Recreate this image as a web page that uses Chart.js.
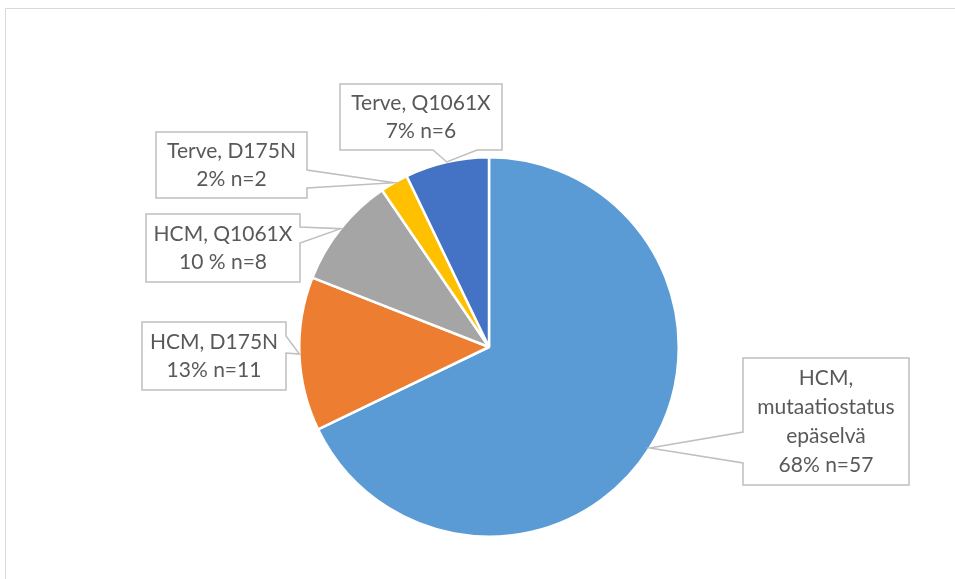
<!DOCTYPE html>
<html>
<head>
<meta charset="utf-8">
<script src="https://cdn.jsdelivr.net/npm/chart.js@4"></script>
<style>
  html, body { margin: 0; padding: 0; background: #fff; }
  #wrap { position: relative; width: 955px; height: 579px; }
</style>
</head>
<body>
<div id="wrap"><canvas id="c" width="955" height="579"></canvas></div>
<script>
// pie of HCM / Terve groups, clockwise from 12 o'clock
const groups = ["HCM, mutaatiostatus epäselvä", "HCM, D175N", "HCM, Q1061X", "Terve, D175N", "Terve, Q1061X"];
const counts = [57, 11, 8, 2, 6];
const pctText = ["68%", "13%", "10 %", "2%", "7%"];
const labelLines = [
  ["HCM,", "mutaatiostatus", "epäselvä"],
  ["HCM, D175N"],
  ["HCM, Q1061X"],
  ["Terve, D175N"],
  ["Terve, Q1061X"]
];
const colors = ["#5B9BD5", "#ED7D31", "#A5A5A5", "#FFC000", "#4472C4"];

// callout boxes: where each label sits, and which side the pointer leaves from
const boxes = [
  { x: 743, y: 358, w: 166, h: 127, side: "left", b1: 432, b2: 463 },
  { x: 142, y: 322, w: 144, h: 68, side: "right", b1: 336, b2: 353 },
  { x: 146, y: 214, w: 154, h: 68, side: "right", b1: 227, b2: 243 },
  { x: 156, y: 132, w: 151, h: 66, side: "right", b1: 170, b2: 188 },
  { x: 340, y: 84, w: 162, h: 66, side: "bottom", b1: 433, b2: 477 }
];

const FONT = "21px Lato, 'Open Sans', sans-serif";

const calloutPlugin = {
  id: "callouts",
  beforeDraw(chart) {
    const ctx = chart.ctx;
    ctx.save();
    ctx.strokeStyle = "#D9D9D9";
    ctx.lineWidth = 1;
    ctx.beginPath();
    ctx.moveTo(5.5, 600); ctx.lineTo(5.5, 8.5); ctx.lineTo(960, 8.5);
    ctx.stroke();
    ctx.restore();
  },
  afterDraw(chart) {
    const ctx = chart.ctx;
    const arcs = chart.getDatasetMeta(0).data;
    ctx.save();
    arcs.forEach((arc, i) => {
      const p = arc.getProps(["x", "y", "startAngle", "endAngle", "outerRadius"], true);
      const mid = (p.startAngle + p.endAngle) / 2;
      const tx = p.x + Math.cos(mid) * p.outerRadius;
      const ty = p.y + Math.sin(mid) * p.outerRadius;
      const b = boxes[i];
      const L = b.x, T = b.y, R = b.x + b.w, B = b.y + b.h;
      ctx.beginPath();
      ctx.moveTo(L, T);
      ctx.lineTo(R, T);
      if (b.side === "right") { ctx.lineTo(R, b.b1); ctx.lineTo(tx, ty); ctx.lineTo(R, b.b2); }
      ctx.lineTo(R, B);
      if (b.side === "bottom") { ctx.lineTo(b.b2, B); ctx.lineTo(tx, ty); ctx.lineTo(b.b1, B); }
      ctx.lineTo(L, B);
      if (b.side === "left") { ctx.lineTo(L, b.b2); ctx.lineTo(tx, ty); ctx.lineTo(L, b.b1); }
      ctx.closePath();
      ctx.fillStyle = "#fff";
      ctx.fill();
      ctx.strokeStyle = "#BFBFBF";
      ctx.lineWidth = 1.5;
      ctx.stroke();

      const lines = labelLines[i].concat([pctText[i] + " n=" + counts[i]]);
      const lh = lines.length > 2 ? 29 : 28;
      ctx.fillStyle = "#595959";
      ctx.font = FONT;
      ctx.textAlign = "center";
      ctx.textBaseline = "middle";
      const cy = T + b.h / 2;
      lines.forEach((t, k) => {
        ctx.fillText(t, L + b.w / 2, cy + (k - (lines.length - 1) / 2) * lh);
      });
    });
    ctx.restore();
  }
};

new Chart(document.getElementById("c"), {
  type: "pie",
  data: {
    labels: groups,
    datasets: [{
      data: counts,
      backgroundColor: colors,
      borderColor: "#fff",
      borderWidth: 2.5
    }]
  },
  options: {
    responsive: false,
    animation: false,
    layout: { padding: { top: 156, bottom: 41, left: 298, right: 275 } },
    plugins: { legend: { display: false }, tooltip: { enabled: false } }
  },
  plugins: [calloutPlugin]
});
</script>
</body>
</html>
